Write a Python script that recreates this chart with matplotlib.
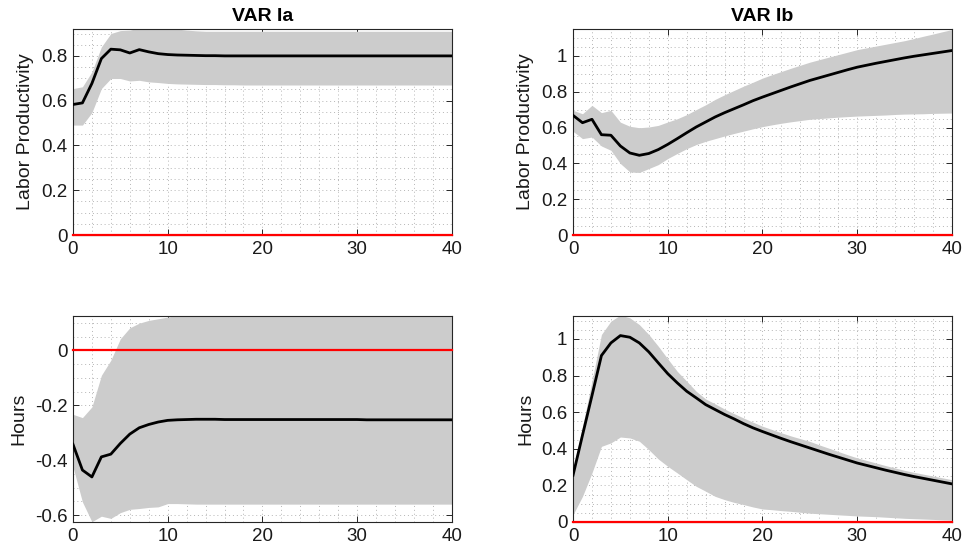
import numpy as np
import matplotlib
matplotlib.use("Agg")
import matplotlib.pyplot as plt
from matplotlib.ticker import MultipleLocator, FuncFormatter

plt.rcParams['font.family'] = ['Liberation Sans', 'DejaVu Sans']
plt.rcParams['axes.unicode_minus'] = False

# horizon 0..40
horizon = list(range(41))

# VAR Ia, labor productivity
lp_ia_mean = [0.583, 0.59, 0.677, 0.788, 0.83, 0.827, 0.813, 0.828, 0.818, 0.81,
              0.806, 0.804, 0.803, 0.802, 0.801, 0.801, 0.8, 0.8, 0.8, 0.8,
              0.8, 0.8, 0.8, 0.8, 0.8, 0.8, 0.8, 0.8, 0.8, 0.8,
              0.8, 0.8, 0.8, 0.8, 0.8, 0.8, 0.8, 0.8, 0.8, 0.8, 0.8]
lp_ia_up = [0.654, 0.662, 0.729, 0.84, 0.9, 0.913, 0.915, 0.925, 0.93, 0.93,
            0.925, 0.92, 0.915, 0.912, 0.91, 0.91, 0.91, 0.91, 0.91, 0.91,
            0.91, 0.91, 0.91, 0.91, 0.91, 0.91, 0.91, 0.91, 0.91, 0.91,
            0.91, 0.91, 0.91, 0.91, 0.91, 0.91, 0.91, 0.91, 0.91, 0.91, 0.91]
lp_ia_lo = [0.491, 0.491, 0.547, 0.654, 0.699, 0.699, 0.688, 0.691, 0.684, 0.681,
            0.677, 0.675, 0.674, 0.673, 0.672, 0.672, 0.671, 0.671, 0.67, 0.67,
            0.67, 0.67, 0.67, 0.67, 0.67, 0.67, 0.67, 0.67, 0.67, 0.67,
            0.67, 0.67, 0.67, 0.67, 0.67, 0.67, 0.67, 0.67, 0.67, 0.67, 0.67]

# VAR Ib, labor productivity
lp_ib_mean = [0.668, 0.627, 0.646, 0.56, 0.557, 0.497, 0.458, 0.445, 0.455, 0.477,
              0.506, 0.538, 0.571, 0.603, 0.631, 0.659, 0.683, 0.705, 0.727, 0.75,
              0.77, 0.789, 0.808, 0.827, 0.845, 0.863, 0.878, 0.893, 0.908, 0.923,
              0.937, 0.948, 0.959, 0.969, 0.979, 0.989, 0.998, 1.006, 1.014, 1.022, 1.03]
lp_ib_up = [0.696, 0.677, 0.724, 0.683, 0.696, 0.63, 0.607, 0.599, 0.603, 0.612,
            0.631, 0.649, 0.672, 0.7, 0.727, 0.757, 0.783, 0.807, 0.831, 0.853,
            0.876, 0.895, 0.913, 0.931, 0.948, 0.965, 0.979, 0.993, 1.007, 1.021,
            1.035, 1.045, 1.055, 1.065, 1.075, 1.085, 1.097, 1.11, 1.122, 1.135, 1.147]
lp_ib_lo = [0.579, 0.538, 0.547, 0.497, 0.473, 0.399, 0.352, 0.349, 0.371, 0.393,
            0.427, 0.455, 0.482, 0.505, 0.523, 0.538, 0.553, 0.567, 0.58, 0.593,
            0.605, 0.615, 0.624, 0.632, 0.639, 0.646, 0.65, 0.654, 0.658, 0.661,
            0.664, 0.666, 0.668, 0.67, 0.673, 0.675, 0.676, 0.677, 0.679, 0.68, 0.681]

# VAR Ia, hours
hr_ia_mean = [-0.342, -0.436, -0.461, -0.388, -0.378, -0.339, -0.305, -0.282, -0.27, -0.261,
              -0.255, -0.253, -0.252, -0.251, -0.251, -0.251, -0.252, -0.252, -0.252, -0.252,
              -0.252, -0.252, -0.252, -0.252, -0.252, -0.252, -0.252, -0.252, -0.252, -0.252,
              -0.252, -0.253, -0.253, -0.253, -0.253, -0.253, -0.253, -0.253, -0.253, -0.253, -0.253]
hr_ia_up = [-0.233, -0.245, -0.206, -0.091, -0.036, 0.042, 0.082, 0.099, 0.109, 0.115,
            0.121, 0.128, 0.132, 0.135, 0.14, 0.14, 0.14, 0.14, 0.14, 0.14,
            0.14, 0.14, 0.14, 0.14, 0.14, 0.14, 0.14, 0.14, 0.14, 0.14,
            0.14, 0.14, 0.14, 0.14, 0.14, 0.14, 0.14, 0.14, 0.14, 0.14, 0.14]
hr_ia_lo = [-0.424, -0.552, -0.624, -0.604, -0.612, -0.591, -0.579, -0.576, -0.572, -0.57,
            -0.558, -0.558, -0.559, -0.56, -0.56, -0.56, -0.56, -0.56, -0.56, -0.56,
            -0.56, -0.56, -0.56, -0.56, -0.56, -0.56, -0.56, -0.56, -0.56, -0.56,
            -0.56, -0.56, -0.56, -0.56, -0.56, -0.56, -0.56, -0.56, -0.56, -0.56, -0.56]

# VAR Ib, hours
hr_ib_mean = [0.255, 0.474, 0.69, 0.909, 0.978, 1.018, 1.009, 0.978, 0.929, 0.869,
              0.81, 0.76, 0.714, 0.678, 0.641, 0.614, 0.587, 0.563, 0.537, 0.514,
              0.494, 0.475, 0.456, 0.438, 0.421, 0.404, 0.387, 0.37, 0.354, 0.338,
              0.322, 0.309, 0.296, 0.283, 0.271, 0.259, 0.248, 0.238, 0.228, 0.218, 0.208]
hr_ib_up = [0.29, 0.52, 0.77, 1.024, 1.097, 1.13, 1.115, 1.078, 1.024, 0.96,
            0.891, 0.823, 0.769, 0.714, 0.672, 0.645, 0.617, 0.592, 0.568, 0.545,
            0.523, 0.505, 0.487, 0.47, 0.455, 0.44, 0.421, 0.403, 0.385, 0.367,
            0.35, 0.336, 0.322, 0.308, 0.295, 0.282, 0.271, 0.261, 0.251, 0.241, 0.231]
hr_ib_lo = [0.04, 0.14, 0.268, 0.413, 0.432, 0.464, 0.459, 0.441, 0.395, 0.344,
            0.304, 0.268, 0.231, 0.195, 0.168, 0.14, 0.122, 0.107, 0.095, 0.082,
            0.071, 0.067, 0.062, 0.058, 0.053, 0.048, 0.045, 0.042, 0.039, 0.036,
            0.033, 0.031, 0.029, 0.026, 0.023, 0.02, 0.018, 0.016, 0.014, 0.012, 0.01]

titles = ['VAR Ia', 'VAR Ib']
ylabels = ['Labor Productivity', 'Hours']

panels = [
    # (row, col, mean, lo, up, ylim)
    (0, 0, lp_ia_mean, lp_ia_lo, lp_ia_up, (0, 0.92)),
    (0, 1, lp_ib_mean, lp_ib_lo, lp_ib_up, (0, 1.15)),
    (1, 0, hr_ia_mean, hr_ia_lo, hr_ia_up, (-0.625, 0.125)),
    (1, 1, hr_ib_mean, hr_ib_lo, hr_ib_up, (0, 1.125)),
]

fig = plt.figure(figsize=(9.65, 5.54), dpi=100)
lefts = [0.0756, 0.5938]
bottoms = [0.5758, 0.0578]
w, ht = 0.3927, 0.3718

band_col = '#cccccc'
grid_col = '#b5b5b5'
edge_col = '#262626'

for row, col, mean, lo, up, ylim in panels:
    ax = fig.add_axes([lefts[col], bottoms[row], w, ht])
    ax.fill_between(horizon, lo, up, color=band_col, linewidth=0, zorder=1)
    ax.axhline(0, color='red', linewidth=1.6, zorder=3, clip_on=False)
    ax.plot(horizon, mean, color='black', linewidth=2, zorder=4)

    ax.set_xlim(0, 40)
    ax.set_ylim(*ylim)
    ax.xaxis.set_major_locator(MultipleLocator(10))
    ax.xaxis.set_minor_locator(MultipleLocator(2))
    ax.yaxis.set_major_locator(MultipleLocator(0.2))
    ax.yaxis.set_minor_locator(MultipleLocator(0.05))
    ax.yaxis.set_major_formatter(FuncFormatter(lambda v, p: '%g' % round(v, 2)))

    ax.set_axisbelow(True)
    ax.grid(which='both', linestyle=(0, (1, 3)), color=grid_col, linewidth=0.7)
    ax.tick_params(which='major', direction='in', top=True, right=True,
                   length=4, width=0.7, color=edge_col, labelsize=13.5,
                   labelcolor='#1a1a1a', pad=4)
    ax.tick_params(which='minor', length=0, top=True, right=True)
    for s in ax.spines.values():
        s.set_color(edge_col)
        s.set_linewidth(0.8)
        s.set_zorder(2.5)

    ax.set_ylabel(ylabels[row], fontsize=14, color='#1a1a1a', labelpad=5)
    if row == 0:
        ax.set_title(titles[col], fontsize=14, fontweight='bold', pad=6)

fig.savefig('out.png', dpi=100)
